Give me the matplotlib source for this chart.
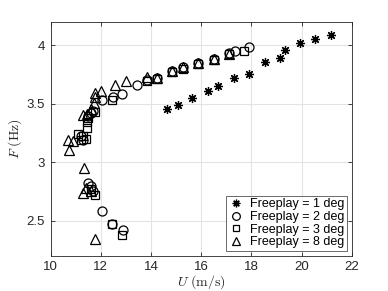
import matplotlib
matplotlib.use("Agg")
import matplotlib.pyplot as plt

# Freeplay = 1 deg (asterisks)
u1 = [14.65, 15.06, 15.65, 16.28, 16.68, 17.30, 17.92, 18.53, 19.14, 19.33, 19.95, 20.55, 21.18]
f1 = [3.452, 3.488, 3.551, 3.604, 3.652, 3.717, 3.757, 3.853, 3.887, 3.954, 4.014, 4.051, 4.085]

# Freeplay = 2 deg (circles)
u2 = [11.20, 11.30, 11.50, 11.60, 11.70, 12.03, 12.47, 12.83, 13.43, 13.83, 14.25, 14.85, 15.26,
      15.89, 16.50, 17.12, 17.35, 17.92,
      11.50, 11.61, 11.70, 12.03, 12.43, 12.90]
f2 = [3.22, 3.19, 3.39, 3.42, 3.44, 3.53, 3.56, 3.585, 3.655, 3.70, 3.72, 3.78, 3.81,
      3.845, 3.88, 3.93, 3.95, 3.985,
      2.82, 2.80, 2.75, 2.58, 2.47, 2.42]

# Freeplay = 3 deg (squares)
u3 = [11.10, 11.30, 11.20, 11.40, 11.43, 11.43, 11.50, 11.77, 12.43, 13.83, 14.25, 14.85, 15.26,
      15.89, 16.50, 17.12, 17.72,
      11.60, 11.75, 12.43, 12.83]
f3 = [3.24, 3.22, 3.19, 3.20, 3.29, 3.34, 3.38, 3.43, 3.53, 3.69, 3.71, 3.77, 3.80,
      3.835, 3.87, 3.92, 3.95,
      2.77, 2.72, 2.47, 2.38]

# Freeplay = 8 deg (triangles)
u8 = [10.70, 10.90, 10.73, 11.30, 11.43, 11.60, 11.73, 11.77, 11.77, 12.01, 12.56, 13.00, 13.83,
      14.25, 14.85, 15.26, 15.89, 16.50, 17.12,
      11.34, 11.30, 11.40, 11.60, 11.77]
f8 = [3.19, 3.18, 3.10, 3.40, 3.415, 3.45, 3.505, 3.556, 3.593, 3.604, 3.655, 3.697, 3.731,
      3.72, 3.78, 3.81, 3.845, 3.88, 3.92,
      2.95, 2.74, 2.78, 2.75, 2.34]

labels = ["Freeplay = 1 deg", "Freeplay = 2 deg", "Freeplay = 3 deg", "Freeplay = 8 deg"]
xticks = [10, 12, 14, 16, 18, 20, 22]
yticks = [2.5, 3, 3.5, 4]

plt.rcParams['font.family'] = ['Liberation Sans', 'DejaVu Sans']
plt.rcParams['mathtext.fontset'] = 'cm'

fig = plt.figure(figsize=(3.88, 2.91), dpi=100)
ax = fig.add_axes([0.1307, 0.1213, 0.7757, 0.8041])

ms = 6.5
kw = dict(linestyle='none', markerfacecolor='none', markeredgecolor='black', markeredgewidth=0.9)
ax.plot(u1, f1, marker=(8, 2, 0), markersize=ms, color='black', linestyle='none',
        markeredgewidth=0.9, label=labels[0])
ax.plot(u2, f2, marker='o', markersize=ms, label=labels[1], **kw)
ax.plot(u3, f3, marker='s', markersize=ms - 1, label=labels[2], **kw)
ax.plot(u8, f8, marker='^', markersize=ms + 0.5, label=labels[3], **kw)

ax.set_xlim(10, 22)
ax.set_ylim(2.2, 4.2)
ax.set_xticks(xticks)
ax.set_yticks(yticks)
ax.set_yticklabels(['2.5', '3', '3.5', '4'])
ax.grid(True, color='#e3e3e3', linewidth=0.8)
ax.set_axisbelow(True)
ax.tick_params(direction='in', length=3, width=0.6, colors='#262626', labelsize=9.5,
               top=True, right=True, labeltop=False, labelright=False, pad=4)
for sp in ax.spines.values():
    sp.set_color('#262626')
    sp.set_linewidth(0.6)

ax.set_xlabel(r'$U\ \mathrm{(m/s)}$', fontsize=10, color='#262626', labelpad=0)
ax.set_ylabel(r'$F\ \mathrm{(Hz)}$', fontsize=10, color='#262626', labelpad=2)

leg = ax.legend(loc='lower right', fontsize=9, frameon=True, fancybox=False,
                edgecolor='#262626', borderpad=0.2, labelspacing=0.05, handlelength=1.2,
                handletextpad=0.5, borderaxespad=0.4, markerscale=0.85)
leg.get_frame().set_linewidth(0.6)

fig.savefig('out.png', dpi=100)
